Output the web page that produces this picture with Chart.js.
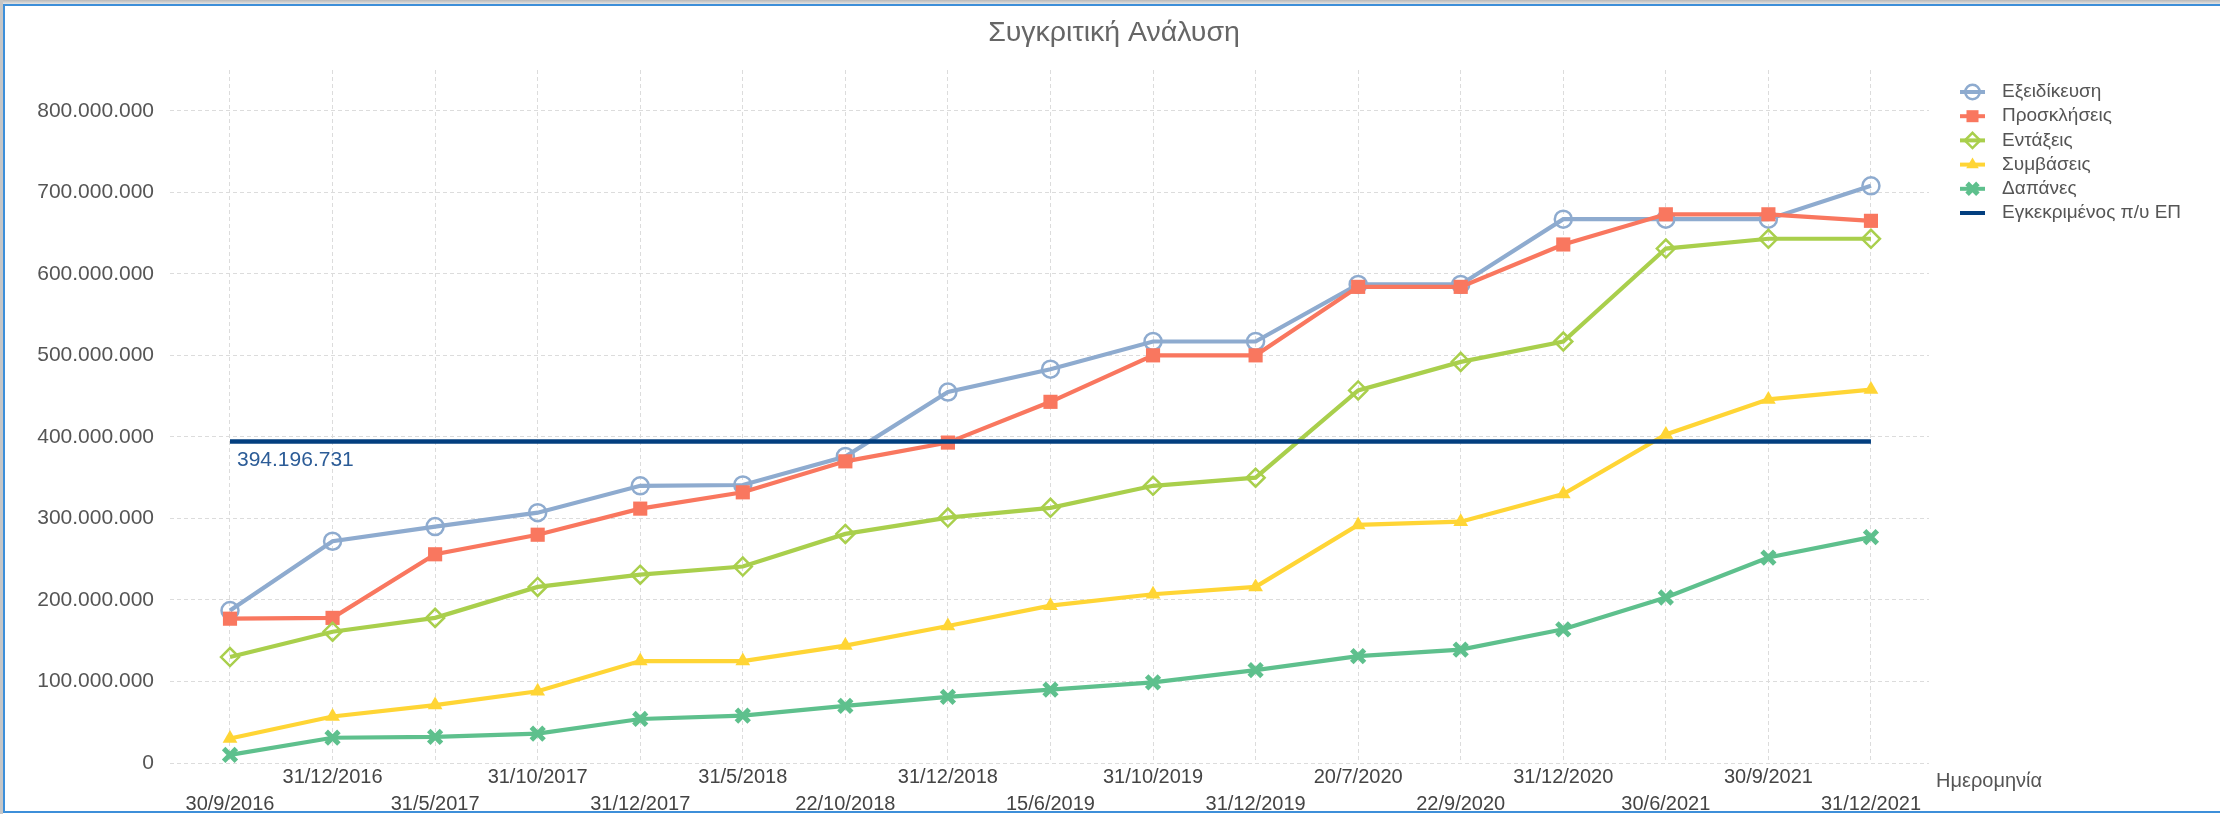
<!DOCTYPE html>
<html>
<head>
<meta charset="utf-8">
<script src="https://cdn.jsdelivr.net/npm/chart.js"></script>
<style>
html, body { margin: 0; padding: 0; background: #fff; }
#wrap { position: relative; width: 2220px; height: 814px; overflow: hidden; }
#topbar { position: absolute; left: 0; top: 0; width: 2220px; height: 4px; background: linear-gradient(#b9b9b9, #e4e4e4); }
#leftbar { position: absolute; left: 0; top: 0; width: 3px; height: 814px; background: #c6c6c6; }
#frame { position: absolute; left: 3px; top: 4px; width: 2217px; height: 809px; box-sizing: border-box; border: 2px solid #3d8fd9; border-right: none; }
canvas { position: absolute; left: 0; top: 0; }
</style>
</head>
<body>
<div id="wrap">
    <div id="topbar"></div>
    <div id="leftbar"></div>
    <div id="frame"></div>
    <canvas id="chart" width="2220" height="814"></canvas>
</div>
<script>
const dates = ["30/9/2016", "31/12/2016", "31/5/2017", "31/10/2017", "31/12/2017", "31/5/2018", "22/10/2018", "31/12/2018",
    "15/6/2019", "31/10/2019", "31/12/2019", "20/7/2020", "22/9/2020", "31/12/2020", "30/6/2021", "30/9/2021", "31/12/2021"];

const exeidikeusi = [187000000, 272000000, 290000000, 307000000, 340000000, 341000000, 376000000, 455000000, 483000000,
    517000000, 517000000, 587000000, 587000000, 667000000, 667000000, 667000000, 708000000];
const proskliseis = [177000000, 178000000, 256000000, 280000000, 312000000, 332000000, 370000000, 393000000, 443000000,
    500000000, 500000000, 584000000, 584000000, 636000000, 673000000, 673000000, 665000000];
const entaxeis = [130000000, 161000000, 178000000, 216000000, 231000000, 241000000, 281000000, 301000000, 313000000,
    340000000, 350000000, 457000000, 492000000, 517000000, 631000000, 643000000, 643000000];
const symvaseis = [30000000, 57000000, 71000000, 88000000, 125000000, 125000000, 144000000, 168000000, 193000000,
    207000000, 216000000, 292000000, 296000000, 330000000, 403000000, 446000000, 458000000];
const dapanes = [10000000, 31000000, 32000000, 36000000, 54000000, 58000000, 70000000, 81000000, 90000000,
    99000000, 114000000, 131000000, 139000000, 164000000, 203000000, 252000000, 277000000];
const egkekrimenos = 394196731;

const yTicks = [0, 100000000, 200000000, 300000000, 400000000, 500000000, 600000000, 700000000, 800000000];

const FONT = '"Liberation Sans", Arial, sans-serif';

function fmt(v) {
    return String(Math.round(v)).replace(/\B(?=(\d{3})+(?!\d))/g, ".");
}

function pts(arr) {
    return arr.map((v, i) => ({ x: i, y: v }));
}

const series = [
    { label: "Εξειδίκευση", values: exeidikeusi, color: "#8eabcf", style: "circle", r: 8.5, bw: 2.5, fill: "rgba(255,255,255,0)" },
    { label: "Προσκλήσεις", values: proskliseis, color: "#f9775f", style: "rect", r: 10, bw: 0, fill: "#f9775f" },
    { label: "Εντάξεις", values: entaxeis, color: "#a9cf4c", style: "rectRot", r: 9, bw: 2.5, fill: "rgba(255,255,255,0)" },
    { label: "Συμβάσεις", values: symvaseis, color: "#ffd535", style: "triangle", r: 8.5, bw: 0, fill: "#ffd535" },
    { label: "Δαπάνες", values: dapanes, color: "#5ec08d", style: "crossRot", r: 9, bw: 5, fill: "#5ec08d" },
    { label: "Εγκεκριμένος π/υ ΕΠ", values: dates.map(() => egkekrimenos), color: "#033f7f", style: false, r: 0, bw: 0, fill: "#033f7f" }
];

const datasets = series.map((s, i) => ({
    label: s.label,
    data: pts(s.values),
    borderColor: s.color,
    backgroundColor: s.fill,
    borderWidth: i === 5 ? 4.5 : 4.2,
    pointStyle: s.style,
    pointRadius: s.r,
    pointBorderWidth: s.bw,
    pointBorderColor: s.color,
    pointBackgroundColor: s.fill,
    tension: 0,
    order: -i
}));

const extras = {
    id: "extras",
    afterDraw(chart) {
        const ctx = chart.ctx;
        ctx.save();

        // title
        ctx.font = "28.5px " + FONT;
        ctx.fillStyle = "#666";
        ctx.textAlign = "center";
        ctx.textBaseline = "middle";
        ctx.fillText("Συγκριτική Ανάλυση", 1114, 33);

        // legend
        ctx.font = "19px " + FONT;
        ctx.textAlign = "left";
        series.forEach((s, i) => {
            const y = 92 + i * 24.2;
            ctx.strokeStyle = s.color;
            ctx.lineWidth = 4;
            ctx.beginPath();
            ctx.moveTo(1960, y);
            ctx.lineTo(1985, y);
            ctx.stroke();
            if (s.style) {
                ctx.fillStyle = s.fill;
                ctx.strokeStyle = s.color;
                ctx.lineWidth = s.bw;
                Chart.helpers.drawPoint(ctx, { pointStyle: s.style, radius: s.r * 0.85, borderWidth: s.bw, rotation: 0 }, 1972.5, y);
            }
            ctx.fillStyle = "#555";
            ctx.fillText(s.label, 2002, y);
        });

        // value label of the approved budget
        const p = chart.getDatasetMeta(5).data[0];
        ctx.font = "21px " + FONT;
        ctx.fillStyle = "#2c5c97";
        ctx.fillText(fmt(egkekrimenos), p.x + 7, p.y + 19);

        // x axis title
        const xs = chart.scales.x;
        ctx.font = "20px " + FONT;
        ctx.fillStyle = "#555";
        ctx.fillText("Ημερομηνία", xs.right + 7, xs.top + 18);

        ctx.restore();
    }
};

new Chart(document.getElementById("chart"), {
    type: "line",
    data: { datasets },
    options: {
        responsive: false,
        animation: false,
        events: [],
        layout: { padding: { left: 20, right: 291, top: 70, bottom: 0 } },
        plugins: {
            legend: { display: false },
            tooltip: { enabled: false },
            title: { display: false }
        },
        scales: {
            x: {
                type: "linear",
                min: -0.585,
                max: 16.566,
                afterBuildTicks: scale => { scale.ticks = dates.map((d, i) => ({ value: i })); },
                afterFit: scale => { scale.height = 51; },
                grid: { color: "#dcdcdc", lineWidth: 1, drawTicks: false },
                border: { display: false, dash: [4, 3] },
                ticks: {
                    autoSkip: false,
                    maxRotation: 0,
                    minRotation: 0,
                    padding: 1,
                    color: "#444",
                    font: { family: FONT, size: 20, lineHeight: 1.35 },
                    callback: v => (v % 2 === 1 ? [dates[v]] : ["", dates[v]])
                }
            },
            y: {
                min: 0,
                max: 850000000,
                afterBuildTicks: scale => { scale.ticks = yTicks.map(v => ({ value: v })); },
                afterFit: scale => { scale.width = 150; },
                grid: { color: "#dcdcdc", lineWidth: 1, drawTicks: false },
                border: { display: false, dash: [4, 3] },
                ticks: {
                    padding: 16,
                    color: "#555",
                    font: { family: FONT, size: 21 },
                    callback: v => fmt(v)
                }
            }
        }
    },
    plugins: [extras]
});
</script>
</body>
</html>
